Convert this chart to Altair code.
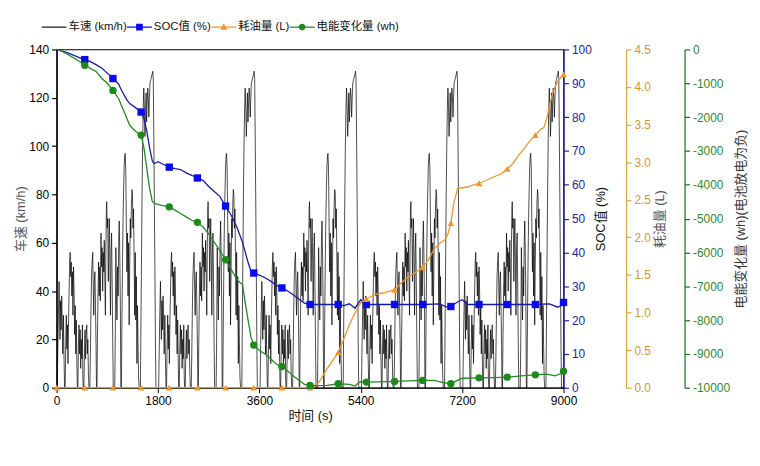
import altair as alt
import pandas as pd

FONT = "Liberation Sans, Arial, Noto Sans CJK SC, sans-serif"

# ---- one driving cycle (s, km/h); the cycle repeats 5 times ----
cycle_time = [0, 12, 22, 32, 44, 52, 60, 70, 80, 90, 100, 110, 122, 132, 142, 152, 162, 172, 182, 192,
              202, 212, 222, 232, 241, 250, 260, 270, 280, 290, 300, 310, 320, 330, 340, 350, 360, 368,
              378, 388, 398, 408, 418, 428, 438, 448, 458, 466, 474, 484, 494, 504, 514, 524, 535, 545,
              555, 565, 575, 590,
              600, 610, 620, 630, 641, 650, 660, 670, 680, 690, 700, 708, 716, 726, 736, 746, 756, 766,
              776, 788, 798, 808, 818, 828, 838, 846, 856, 866, 876, 884, 890, 898, 908, 918, 928, 936,
              946, 956, 966, 976, 986, 996, 1006, 1022,
              1032, 1042, 1052, 1062, 1072, 1082, 1092, 1102, 1112, 1122, 1132, 1140, 1150, 1160, 1170,
              1180, 1190, 1200, 1210, 1218, 1228, 1238, 1248, 1258, 1268, 1278, 1288, 1298, 1308, 1318,
              1328, 1338, 1347, 1356, 1366, 1376, 1386, 1396, 1406, 1416, 1426, 1436, 1446, 1456, 1466, 1478,
              1488, 1498, 1508, 1518, 1528, 1538, 1548, 1558, 1568, 1578, 1588, 1598, 1608, 1618, 1628,
              1638, 1648, 1658, 1668, 1678, 1688, 1698, 1708, 1716, 1726, 1736, 1746, 1756, 1764]
cycle_speed = [0, 0, 16, 30, 44, 32, 20, 36, 24, 38, 28, 14, 30, 12, 0, 0, 18, 30, 16, 26,
               10, 28, 40, 52, 56, 46, 52, 38, 48, 30, 50, 40, 22, 34, 14, 28, 10, 0,
               0, 18, 26, 14, 24, 8, 20, 12, 26, 4, 0, 0, 14, 24, 12, 22, 26, 14,
               20, 6, 0, 0,
               14, 32, 46, 52, 56, 42, 30, 44, 48, 34, 18, 0, 0, 22, 40, 52, 38, 50,
               36, 64, 50, 58, 40, 56, 48, 61, 46, 30, 60, 74, 77, 66, 70, 44, 60, 70,
               52, 30, 56, 64, 44, 20, 0, 0,
               0, 22, 58, 40, 28, 50, 38, 60, 69, 54, 34, 0, 0, 28, 52,
               70, 82, 92, 96, 97, 90, 68, 48, 64, 38, 60, 26, 50, 70, 62,
               76, 82, 80, 66, 74, 54, 30, 56, 28, 46, 10, 34, 18, 4, 0, 0,
               0, 28, 56, 82, 102, 116, 124, 116, 104, 112, 122, 110, 118, 124, 120,
               112, 120, 126, 127, 128, 129, 130, 131, 128, 104, 76, 46, 16, 0]
cycle_length = 1800
n_cycles = 5

# ---- SOC (%) ----
soc_time = [0, 100, 200, 300, 400, 500, 600, 700, 800, 900, 1000, 1100, 1150, 1200, 1250, 1300, 1400,
            1500, 1550, 1600, 1650, 1700, 1730, 1800, 1900, 2000, 2100, 2200, 2300, 2400, 2500, 2600,
            2700, 2800, 2900, 3000, 3100, 3200, 3300, 3400, 3450, 3500, 3600, 3700, 3800, 3900, 4000,
            4100, 4200, 4300, 4400, 4500, 4700, 5000, 5100, 5200, 5300, 5400, 5450, 5500, 6000, 6500,
            6800, 6950, 7000, 7100, 7200, 7300, 7500, 8000, 8500, 8750, 8900, 8950, 9000]
soc_value = [100, 99.5, 99.0, 98.3, 97.6, 97.0, 96.4, 95.5, 94.5, 93.0, 91.4, 89.8, 88.0, 86.5, 85.0,
             84.0, 82.8, 81.5, 79.5, 76.0, 71.0, 67.0, 66.2, 66.8, 66.0, 65.2, 64.8, 64.5, 63.5, 62.8,
             62.0, 61.3, 59.5, 58.0, 56.5, 53.7, 51.0, 47.5, 43.0, 37.0, 34.5, 33.9, 33.3, 32.5, 31.5,
             30.3, 29.5, 28.6, 27.5, 26.2, 25.0, 24.6, 24.6, 24.6, 24.3, 24.8, 23.5, 26.0, 24.8, 24.6,
             24.6, 24.6, 24.8, 23.7, 24.0, 25.2, 26.0, 24.6, 24.6, 24.6, 24.6, 24.8, 23.8, 24.2, 25.2]
soc_mark_time = [500, 1000, 1500, 2000, 2500, 3000, 3500, 4000, 4500, 5000, 5500, 6000, 6500, 7000,
                 7500, 8000, 8500, 9000]
soc_mark_value = [97.0, 91.4, 81.5, 65.2, 62.0, 53.7, 33.9, 29.5, 24.6, 24.6, 24.6, 24.6, 24.6, 24.0,
                  24.6, 24.6, 24.6, 25.2]

# ---- fuel (L) ----
fuel_time = [0, 4500, 4600, 4700, 4800, 4900, 5000, 5100, 5200, 5300, 5400, 5500, 5600, 5700, 5800,
             5900, 6000, 6100, 6200, 6300, 6400, 6500, 6600, 6700, 6800, 6900, 6950, 7000, 7050, 7120,
             7200, 7300, 7400, 7500, 7600, 7750, 7900, 8000, 8100, 8200, 8300, 8400, 8500, 8600, 8650,
             8700, 8800, 8850, 8900, 8950, 9000]
fuel_value = [0, 0, 0.02, 0.12, 0.25, 0.36, 0.47, 0.65, 0.84, 1.00, 1.13, 1.18, 1.22, 1.25, 1.26,
              1.28, 1.30, 1.38, 1.45, 1.50, 1.55, 1.60, 1.70, 1.84, 1.92, 1.97, 2.05, 2.19, 2.45, 2.65,
              2.66, 2.67, 2.70, 2.72, 2.75, 2.80, 2.85, 2.91, 2.98, 3.09, 3.18, 3.28, 3.36, 3.44, 3.46,
              3.58, 3.90, 4.00, 4.08, 4.12, 4.17]
fuel_mark_time = [0, 500, 1000, 1500, 2000, 2500, 3000, 3500, 4000, 4500, 5000, 5500, 6000, 6500,
                  7000, 7500, 8000, 8500, 9000]
fuel_mark_value = [0, 0, 0, 0, 0, 0, 0, 0, 0, 0, 0.47, 1.18, 1.30, 1.60, 2.19, 2.72, 2.91, 3.36, 4.17]

# ---- electric energy change (Wh) ----
elec_time = [0, 100, 200, 300, 400, 500, 600, 700, 800, 900, 1000, 1100, 1200, 1300, 1400, 1500, 1550,
             1600, 1650, 1700, 1750, 1850, 2000, 2100, 2200, 2300, 2400, 2500, 2600, 2700, 2800, 2900,
             3000, 3100, 3200, 3250, 3300, 3350, 3400, 3450, 3500, 3600, 3700, 3800, 3900, 4000, 4100,
             4200, 4300, 4400, 4500, 4600, 4800, 5000, 5200, 5300, 5350, 5400, 5500, 5700, 6000, 6250,
             6500, 6700, 6850, 7000, 7100, 7200, 7500, 7750, 8000, 8250, 8500, 8700, 8850, 8950, 9000]
elec_value = [0, -60, -150, -250, -350, -469, -560, -650, -850, -1000, -1212, -1450, -1850, -2250,
              -2420, -2531, -2900, -3500, -4100, -4500, -4560, -4600, -4653, -4750, -4850, -4950, -5050,
              -5112, -5250, -5450, -5700, -5950, -6217, -6500, -6800, -6880, -6950, -7500, -8000, -8500,
              -8739, -8900, -9000, -9150, -9300, -9375, -9500, -9650, -9780, -9900, -9932, -9940, -9930,
              -9883, -9900, -9950, -9870, -9820, -9834, -9830, -9815, -9800, -9785, -9780, -9840, -9883,
              -9800, -9720, -9707, -9700, -9687, -9650, -9619, -9600, -9650, -9580, -9510]
elec_mark_time = [500, 1000, 1500, 2000, 2500, 3000, 3500, 4000, 4500, 5000, 5500, 6000, 6500, 7000,
                  7500, 8000, 8500, 9000]
elec_mark_value = [-469, -1212, -2531, -4653, -5112, -6217, -8739, -9375, -9932, -9883, -9834, -9815,
                   -9785, -9883, -9707, -9687, -9619, -9510]

series_names = ["车速 (km/h)", "SOC值 (%)", "耗油量 (L)", "电能变化量 (wh)"]
x_ticks = [0, 1800, 3600, 5400, 7200, 9000]

# ---- build tables ----
sp_t, sp_v = [], []
for k in range(n_cycles):
    for t, v in zip(cycle_time, cycle_speed):
        sp_t.append(t + k * cycle_length)
        sp_v.append(v)
sp_t.append(n_cycles * cycle_length)
sp_v.append(0)
speed_df = pd.DataFrame({"t": sp_t, "v": sp_v})
soc_df = pd.DataFrame({"t": soc_time, "v": soc_value})
soc_m = pd.DataFrame({"t": soc_mark_time, "v": soc_mark_value})
fuel_df = pd.DataFrame({"t": fuel_time, "v": fuel_value})
fuel_m = pd.DataFrame({"t": fuel_mark_time, "v": fuel_mark_value})
elec_df = pd.DataFrame({"t": elec_time, "v": elec_value})
elec_m = pd.DataFrame({"t": elec_mark_time, "v": elec_mark_value})

BLUE_LINE = "#1a1aa8"
BLUE_MARK = "#0a0af0"
BLUE_AXIS = "#25259e"
ORANGE_LINE = "#f0962a"
ORANGE_AXIS = "#e3a43c"
ORANGE_LAB = "#d8952c"
GREEN_LINE = "#228b22"
GREEN_MARK = "#1b8a1b"
GREEN_AXIS = "#167016"
GREEN_LAB = "#2e8b2e"

x_enc = alt.X("t:Q", scale=alt.Scale(domain=[0, 9000], nice=False, zero=False),
              axis=alt.Axis(values=x_ticks, title="时间 (s)", labelFontSize=12, titleFontSize=13,
                            titleFontWeight="normal", labelColor="#000", titleColor="#111",
                            domainColor="#000", tickColor="#000", tickSize=5, labelPadding=3,
                            titlePadding=3, grid=False, labelFlush=False, format="d"))


def ax(orient, values, title, dcol, lcol, tcol, offset=0, fmt=None, tpad=4, plain=False):
    kw = dict(orient=orient, values=values, title=title, labelFontSize=12, titleFontSize=13,
              titleFontWeight="normal", labelColor=lcol, titleColor=tcol, domainColor=dcol,
              tickColor=dcol, tickSize=5, labelPadding=3, titlePadding=tpad, grid=False,
              offset=offset, domainWidth=1.2, tickWidth=1.2, labelFlush=False)
    if fmt:
        kw["format"] = fmt
    if plain:
        kw["labelExpr"] = "'' + datum.value"
    if orient == "right":
        kw["titleAngle"] = 270
        kw["titleBaseline"] = "top"
    return alt.Axis(**kw)


speed = alt.Chart(speed_df).mark_line(color="#000", strokeWidth=0.7).encode(
    x=x_enc,
    y=alt.Y("v:Q", scale=alt.Scale(domain=[0, 140], nice=False),
            axis=ax("left", list(range(0, 141, 20)), "车速 (km/h)", "#000", "#000", "#555", tpad=1)),
)

soc_y = alt.Y("v:Q", scale=alt.Scale(domain=[0, 100], nice=False),
              axis=ax("right", list(range(0, 101, 10)), "SOC值 (%)", BLUE_AXIS, BLUE_AXIS, "#111", tpad=3))
soc = alt.layer(
    alt.Chart(soc_df).mark_line(color=BLUE_LINE, strokeWidth=1.3).encode(x=x_enc, y=soc_y),
    alt.Chart(soc_m).mark_point(shape="square", filled=True, size=55, color=BLUE_MARK, opacity=1).encode(x=x_enc, y=soc_y),
)

fuel_y = alt.Y("v:Q", scale=alt.Scale(domain=[0, 4.5], nice=False),
               axis=ax("right", [i * 0.5 for i in range(10)], "耗油量 (L)", ORANGE_AXIS, ORANGE_LAB,
                       "#555", offset=63, fmt=".1f", tpad=3))
fuel = alt.layer(
    alt.Chart(fuel_df).mark_line(color=ORANGE_LINE, strokeWidth=1.3).encode(x=x_enc, y=fuel_y),
    alt.Chart(fuel_m).mark_point(shape="triangle-up", filled=True, size=45, color=ORANGE_LINE, opacity=1).encode(x=x_enc, y=fuel_y),
)

elec_y = alt.Y("v:Q", scale=alt.Scale(domain=[-10000, 0], nice=False),
               axis=ax("right", list(range(-10000, 1, 1000)), "电能变化量 (wh)(电池放电为负)", GREEN_AXIS,
                       GREEN_LAB, "#333", offset=122, tpad=5, plain=True))
elec = alt.layer(
    alt.Chart(elec_df).mark_line(color=GREEN_LINE, strokeWidth=1.3).encode(x=x_enc, y=elec_y),
    alt.Chart(elec_m).mark_point(shape="circle", filled=True, size=55, color=GREEN_MARK, opacity=1).encode(x=x_enc, y=elec_y),
)

# legend-only layer (no marks drawn)
legend_shapes = [
    "M-1,-0.045H1V0.045H-1Z",
    "M-1,-0.045H1V0.045H-1Z M-0.27,-0.27H0.27V0.27H-0.27Z",
    "M-1,-0.045H1V0.045H-1Z M0,-0.3L0.3,0.22H-0.3Z",
    "M-1,-0.045H1V0.045H-1Z M-0.27,0A0.27,0.27 0 1,1 0.27,0A0.27,0.27 0 1,1 -0.27,0Z",
]
legend_colors = ["#000000", BLUE_MARK, ORANGE_LINE, GREEN_MARK]
leg = alt.Legend(title=None, orient="none", legendX=-15, legendY=-35, direction="horizontal",
                 symbolSize=625, symbolStrokeWidth=0, labelFontSize=11.5, labelFont=FONT,
                 labelOffset=2, columnPadding=0, labelLimit=300, padding=0, symbolOffset=0,
                 labelColor="#111")
legend_layer = alt.Chart(pd.DataFrame({"s": series_names})).mark_point(filled=True, opacity=1).encode(
    color=alt.Color("s:N", scale=alt.Scale(domain=series_names, range=legend_colors), legend=leg),
    shape=alt.Shape("s:N", scale=alt.Scale(domain=series_names, range=legend_shapes), legend=leg),
).transform_filter("false")

chart = alt.layer(speed, soc, fuel, elec, legend_layer).resolve_scale(y="independent").properties(
    width=511, height=341,
    padding={"left": 49, "top": 40, "right": 190, "bottom": 60},
    autosize=alt.AutoSizeParams(type="none"),
).configure(font=FONT).configure_view(stroke="#000", strokeWidth=1.2).configure_axis(
    labelFont=FONT, titleFont=FONT)

chart.save("out.html", embed_options={"renderer": "svg", "actions": False})
